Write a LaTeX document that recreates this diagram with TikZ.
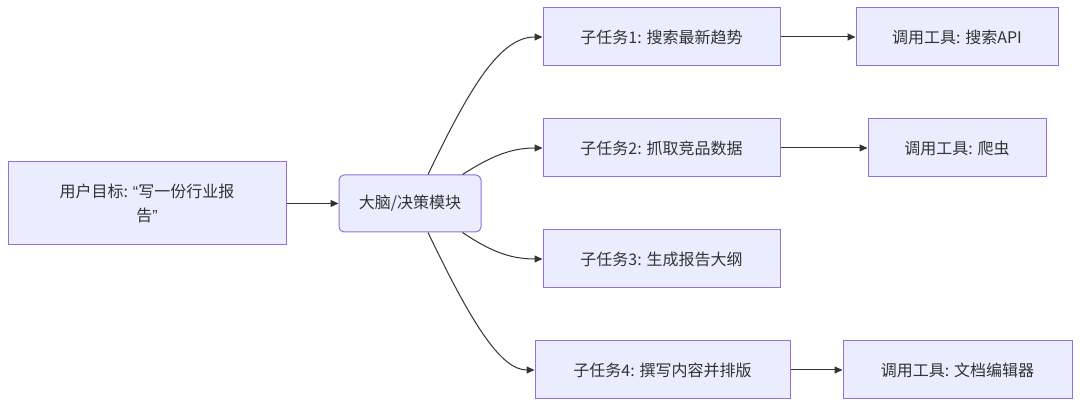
\documentclass[tikz,border=0pt]{standalone}
\usepackage{fontspec}
\setmainfont{Noto Sans CJK SC}
\newfontfamily\latfont{Liberation Sans}
\usetikzlibrary{arrows.meta}
\definecolor{nodefill}{HTML}{ECECFF}
\definecolor{nodeline}{HTML}{9370DB}
\definecolor{ink}{HTML}{333333}
\tikzset{
  box/.style={draw=nodeline, fill=nodefill, line width=1pt, text=ink, font=\fontsize{16}{24}\selectfont, align=center, inner sep=0pt, minimum height=58pt},
  link/.style={draw=ink, line width=1pt, -{Triangle[length=8pt,width=7pt]}},
}
\begin{document}
\begin{tikzpicture}[x=1pt,y=1pt]
\useasboundingbox (0,0) rectangle (1080,407);
\node[box, minimum width=278pt, minimum height=83pt] (goal) at (147,203.5) {用户目标: {\latfont “}写一份行业报\\告{\latfont ”}};
\node[box, rounded corners=5pt, minimum width=142pt, minimum height=57pt] (brain) at (410,203.5) {大脑/决策模块};
\node[box, minimum width=237pt] (t1) at (661.5,370) {子任务1: 搜索最新趋势};
\node[box, minimum width=202pt] (u1) at (957,370) {调用工具: 搜索API};
\node[box, minimum width=237pt] (t2) at (661.5,259) {子任务2: 抓取竞品数据};
\node[box, minimum width=178pt] (u2) at (957,259) {调用工具: 爬虫};
\node[box, minimum width=237pt] (t3) at (661.5,148) {子任务3: 生成报告大纲};
\node[box, minimum width=255pt] (t4) at (662.5,37) {子任务4: 撰写内容并排版};
\node[box, minimum width=229pt] (u4) at (957.5,37) {调用工具: 文档编辑器};
\draw[link] (goal.east) -- (brain.west);
\draw[link] ([xshift=18pt]brain.north) .. controls (470,320) and (500,370) .. (t1.west);
\draw[link] ([xshift=-19pt]brain.north east) .. controls (490,250) and (510,259) .. (t2.west);
\draw[link] ([xshift=-19pt]brain.south east) .. controls (490,156) and (510,148) .. (t3.west);
\draw[link] ([xshift=18pt]brain.south) .. controls (470,87) and (500,37) .. (t4.west);
\draw[link] (t1.east) -- (u1.west);
\draw[link] (t2.east) -- (u2.west);
\draw[link] (t4.east) -- (u4.west);
\end{tikzpicture}
\end{document}
